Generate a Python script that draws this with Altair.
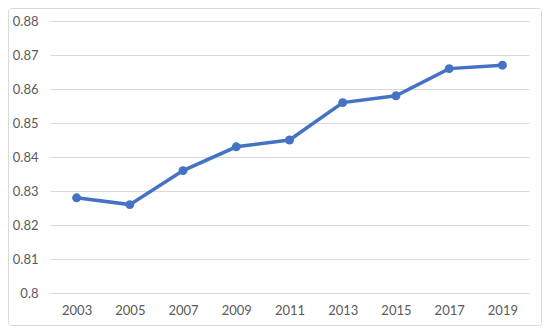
import altair as alt
import pandas as pd

years = ["2003", "2005", "2007", "2009", "2011", "2013", "2015", "2017", "2019"]
values = [0.828, 0.826, 0.836, 0.843, 0.845, 0.856, 0.858, 0.866, 0.867]
y_ticks = [0.80, 0.81, 0.82, 0.83, 0.84, 0.85, 0.86, 0.87, 0.88]

df = pd.DataFrame({"year": years, "value": values})

W, H = 479, 272
PL, PT, PR, PB = 42, 13, 13, 33

border = alt.Chart(pd.DataFrame({"a": [0]})).mark_rect(
    fill="white", fillOpacity=0, stroke="#d9d9d9", strokeWidth=1, cornerRadius=3
).encode(
    x=alt.value(-PL + 0.5), x2=alt.value(W + PR - 0.5),
    y=alt.value(-PT + 0.5), y2=alt.value(H + PB - 0.5),
)

base = alt.Chart(df).encode(
    x=alt.X("year:O", sort=years, title=None,
            scale=alt.Scale(type="point", padding=0.5),
            axis=alt.Axis(labelAngle=0, domain=False, ticks=False, grid=False,
                          labelPadding=11, labelFontSize=13, labelColor="#595959",
                          labelFont="Lato")),
    y=alt.Y("value:Q", title=None,
            scale=alt.Scale(domain=[0.8, 0.88], nice=False, zero=False),
            axis=alt.Axis(values=y_ticks, format=".2~f", domain=False, ticks=False,
                          gridColor="#d9d9d9", gridWidth=1, labelPadding=12,
                          labelFontSize=13, labelColor="#595959", labelFont="Lato")),
)

line = base.mark_line(color="#4472C4", strokeWidth=3.5)
pts = base.mark_circle(color="#4472C4", size=80, opacity=1)

chart = alt.layer(border, line, pts).properties(
    width=W, height=H,
    autosize=alt.AutoSizeParams(type="none"),
    padding={"left": PL, "top": PT, "right": PR, "bottom": PB},
).configure_view(stroke=None)

chart.save("out.html", embed_options={"renderer": "svg", "actions": False})
